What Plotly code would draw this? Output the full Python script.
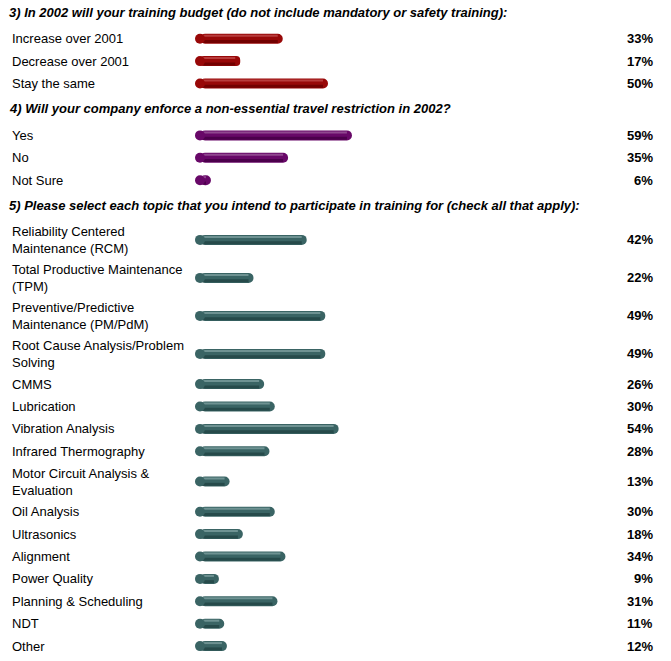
import plotly.graph_objects as go

# survey answers
q3_title = "3) In 2002 will your training budget (do not include mandatory or safety training):"
q3_labels = ["Increase over 2001", "Decrease over 2001", "Stay the same"]
q3_values = [33, 17, 50]

q4_title = "4) Will your company enforce a non-essential travel restriction in 2002?"
q4_labels = ["Yes", "No", "Not Sure"]
q4_values = [59, 35, 6]

q5_title = "5) Please select each topic that you intend to participate in training for (check all that apply):"
q5_labels = [
    "Reliability Centered<br>Maintenance (RCM)",
    "Total Productive Maintenance<br>(TPM)",
    "Preventive/Predictive<br>Maintenance (PM/PdM)",
    "Root Cause Analysis/Problem<br>Solving",
    "CMMS",
    "Lubrication",
    "Vibration Analysis",
    "Infrared Thermography",
    "Motor Circuit Analysis &<br>Evaluation",
    "Oil Analysis",
    "Ultrasonics",
    "Alignment",
    "Power Quality",
    "Planning & Scheduling",
    "NDT",
    "Other",
]
q5_values = [42, 22, 49, 49, 26, 30, 54, 28, 13, 30, 18, 34, 9, 31, 11, 12]

# (base, highlight, shadow) colours per question
palettes = [
    ("#980808", "#b83c3c", "#720000"),
    ("#680868", "#904890", "#4c004c"),
    ("#3a6464", "#6e9292", "#264a4a"),
]

W, H = 671, 661
X0 = 195                    # pixel where the bars start
PX_PER_PCT = 2.66
CAP = 5 / PX_PER_PCT        # half bar thickness, in percent units
FONT = "Liberation Sans, Arial, sans-serif"

fig = go.Figure()
annotations = []

y = 12.0
sections = [(q3_title, q3_labels, q3_values),
            (q4_title, q4_labels, q4_values),
            (q5_title, q5_labels, q5_values)]

for i, (title, labels, values) in enumerate(sections):
    annotations.append(dict(
        x=7 / W, xref="paper", y=y, yref="y", xanchor="left", yanchor="middle",
        text="<b><i>" + title + "</i></b>", showarrow=False,
        font=dict(family=FONT, size=13, color="#000000")))
    top = y + 15.5
    centers = []
    for lab in labels:
        h = 38.0 if "<br>" in lab else 22.4
        centers.append(top + h / 2)
        top += h
    y = top + 14

    base_c, light_c, dark_c = palettes[i]
    n = len(values)
    fig.add_trace(go.Bar(
        x=[v - CAP for v in values], base=[CAP] * n, y=centers, orientation="h",
        width=10, offset=-5,
        marker=dict(color=base_c, cornerradius=5, line=dict(width=0)),
        hoverinfo="skip", showlegend=False))
    fig.add_trace(go.Bar(
        x=[v - 2 * CAP for v in values], base=[CAP] * n, y=centers,
        orientation="h", width=2, offset=-4,
        marker=dict(color=light_c, line=dict(width=0)),
        hoverinfo="skip", showlegend=False))
    fig.add_trace(go.Bar(
        x=[v - 2 * CAP for v in values], base=[CAP] * n, y=centers,
        orientation="h", width=3, offset=1.3,
        marker=dict(color=dark_c, line=dict(width=0)),
        hoverinfo="skip", showlegend=False))
    # round left cap of each bar
    fig.add_trace(go.Scatter(
        x=[CAP] * n, y=centers, mode="markers",
        marker=dict(symbol="circle", size=10, color=base_c, line=dict(width=0)),
        hoverinfo="skip", showlegend=False))

    for lab, v, c in zip(labels, values, centers):
        annotations.append(dict(
            x=10 / W, xref="paper", y=c, yref="y", xanchor="left", yanchor="middle",
            text=lab, showarrow=False, align="left",
            font=dict(family=FONT, size=13, color="#000000")))
        annotations.append(dict(
            x=655 / W, xref="paper", y=c, yref="y", xanchor="right", yanchor="middle",
            text="<b>%d%%</b>" % v, showarrow=False,
            font=dict(family=FONT, size=13, color="#000000")))

fig.update_layout(
    width=W, height=H,
    margin=dict(l=0, r=0, t=0, b=0),
    paper_bgcolor="white", plot_bgcolor="white",
    barmode="overlay",
    hovermode=False,
    xaxis=dict(range=[-X0 / PX_PER_PCT, (W - X0) / PX_PER_PCT], visible=False, fixedrange=True),
    yaxis=dict(range=[H, 0], visible=False, fixedrange=True),
    annotations=annotations,
)

# drop the default 8px page margin so the figure fills the window
fig.write_html("out.html", config={"displayModeBar": False},
               post_script="document.body.style.margin='0';")
